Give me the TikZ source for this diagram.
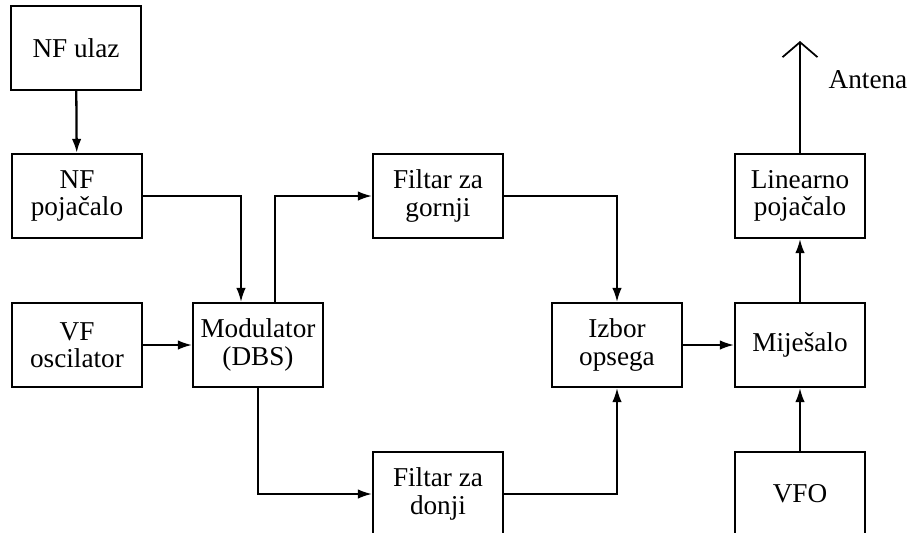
\documentclass[tikz,border=0pt]{standalone}
\usepackage{fontspec}
\setmainfont{Liberation Serif}
\usetikzlibrary{arrows.meta,positioning,calc}

\tikzset{
  blok/.style={draw, line width=1.3pt, minimum width=2.6cm, minimum height=1.68cm,
    inner sep=0pt, align=center, font=\fontsize{15.5}{15.5}\selectfont},
  veza/.style={line width=1pt},
  strel/.style={veza, -{Latex[length=0.28cm, width=0.19cm]}}
}

\begin{document}
\begin{tikzpicture}[x=0.02cm, y=-0.02cm]
\useasboundingbox (0,0) rectangle (910,532);
\clip (0,0) rectangle (910,532);

\node[blok] (nfulaz) at (76,48) {NF ulaz};
\node[blok] (nfpoj) at (77,196) {NF\\pojačalo};
\node[blok] (vfosc) at (77,345) {VF\\oscilator};
\node[blok] (mod) at (258,345) {Modulator\\(DBS)};
\node[blok] (gornji) at (438,196) {Filtar za\\gornji};
\node[blok] (donji) at (438,494) {Filtar za\\donji};
\node[blok] (izbor) at (617,345) {Izbor\\opsega};
\node[blok] (mijes) at (800,345) {Miješalo};
\node[blok] (linear) at (800,196) {Linearno\\pojačalo};
\node[blok] (vfo) at (800,494) {VFO};

\coordinate (ant) at (800,41);
\node[font=\fontsize{15.5}{15.5}\selectfont] (antlbl) at (868,80) {Antena};

\draw[strel, line width=1.3pt] (nfulaz) -- (nfpoj);
\draw[strel] (nfpoj.east) -| ([xshift=-0.34cm]mod.north);
\draw[strel] (vfosc) -- (mod);
\draw[strel] ([xshift=0.34cm]mod.north) |- (gornji.west);
\draw[strel] (mod.south) |- (donji.west);
\draw[strel] (gornji.east) -| (izbor.north);
\draw[strel] (donji.east) -| (izbor.south);
\draw[strel] (izbor) -- (mijes);
\draw[strel] (vfo) -- (mijes);
\draw[strel] (mijes) -- (linear);
\draw[veza, -{Straight Barb[length=0.3cm, width=0.7cm, line width=1pt]}] (linear.north) -- (ant);
\end{tikzpicture}
\end{document}
